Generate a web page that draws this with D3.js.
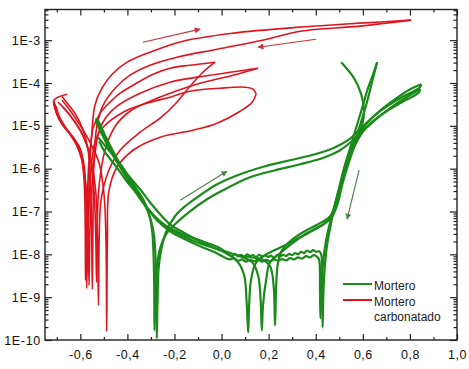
<!DOCTYPE html>
<html>
<head>
<meta charset="utf-8">
<script src="https://cdn.jsdelivr.net/npm/d3@7/dist/d3.min.js"></script>
<style>
  body { margin: 0; background: #fff; }
  svg { display: block; font-family: 'Liberation Sans', Arial, sans-serif; }
</style>
</head>
<body>
<div id="main"></div>
<script>
// points are [E (V), log10 of current]
// mortero carbonatado, 4 cycles
const carb1Fwd = [
  [-0.656, -4.261], [-0.712, -4.402], [-0.703, -4.682], [-0.678, -4.962], [-0.635, -5.243],
  [-0.601, -5.523], [-0.584, -5.920], [-0.576, -6.738], [-0.574, -7.906], [-0.573, -8.793],
  [-0.569, -7.906], [-0.565, -6.738], [-0.559, -5.803], [-0.550, -5.102], [-0.538, -4.518],
  [-0.508, -4.121], [-0.465, -3.794], [-0.401, -3.514], [-0.304, -3.280], [-0.164, -3.023],
  [0.049, -2.836], [0.334, -2.696], [0.588, -2.603], [0.805, -2.533]
];
const carb1Rev = [
  [0.805, -2.533], [0.588, -2.673], [0.334, -2.790], [0.193, -2.977], [-0.019, -3.210],
  [-0.189, -3.397], [-0.304, -3.584], [-0.389, -3.818], [-0.452, -4.121], [-0.503, -4.518],
  [-0.529, -4.986], [-0.542, -5.803], [-0.546, -7.205], [-0.549, -8.817], [-0.552, -7.438],
  [-0.557, -6.270], [-0.567, -5.570], [-0.588, -5.102], [-0.618, -4.752], [-0.652, -4.495],
  [-0.678, -4.308]
];
const carb2Fwd = [
  [-0.707, -4.495], [-0.695, -4.775], [-0.661, -5.056], [-0.622, -5.336], [-0.597, -5.686],
  [-0.584, -6.270], [-0.579, -7.438], [-0.578, -8.606], [-0.574, -7.438], [-0.569, -6.504],
  [-0.563, -5.803], [-0.554, -5.336], [-0.546, -5.056], [-0.516, -4.705], [-0.474, -4.448],
  [-0.431, -4.238], [-0.376, -4.051], [-0.291, -3.794], [-0.219, -3.654], [-0.134, -3.584],
  [-0.028, -3.514]
];
const carb2Rev = [
  [-0.028, -3.514], [-0.079, -3.748], [-0.134, -4.075], [-0.198, -4.495], [-0.261, -4.822],
  [-0.346, -5.149], [-0.431, -5.570], [-0.482, -6.084], [-0.512, -6.738], [-0.520, -7.672],
  [-0.523, -9.190], [-0.527, -7.672], [-0.533, -6.621], [-0.554, -5.803], [-0.584, -5.289],
  [-0.622, -4.916], [-0.661, -4.635], [-0.695, -4.448]
];
const carb3Fwd = [
  [-0.703, -4.542], [-0.686, -4.822], [-0.652, -5.126], [-0.618, -5.429], [-0.593, -5.803],
  [-0.576, -6.387], [-0.566, -7.438], [-0.563, -8.723], [-0.559, -7.438], [-0.550, -6.387],
  [-0.538, -5.686], [-0.525, -5.219], [-0.499, -4.869], [-0.444, -4.542], [-0.346, -4.238],
  [-0.219, -3.981], [-0.049, -3.818], [0.155, -3.654]
];
const carb3Rev = [
  [0.155, -3.654], [0.049, -3.818], [-0.091, -4.005], [-0.219, -4.238], [-0.304, -4.425],
  [-0.389, -4.659], [-0.452, -5.009], [-0.495, -5.570], [-0.520, -6.387], [-0.529, -7.438],
  [-0.531, -8.653], [-0.535, -7.438], [-0.542, -6.504], [-0.559, -5.686], [-0.593, -5.172],
  [-0.635, -4.822], [-0.673, -4.565]
];
const carb4Fwd = [
  [-0.712, -4.425], [-0.699, -4.729], [-0.669, -5.009], [-0.631, -5.289], [-0.601, -5.616],
  [-0.584, -6.084], [-0.574, -7.205], [-0.569, -8.373], [-0.565, -7.205], [-0.557, -6.270],
  [-0.548, -5.686], [-0.533, -5.289], [-0.503, -5.032], [-0.418, -4.682], [-0.317, -4.472],
  [-0.219, -4.332], [-0.134, -4.191], [-0.006, -4.121], [0.100, -4.098], [0.134, -4.145],
  [0.147, -4.261]
];
const carb4Rev = [
  [0.147, -4.261], [0.130, -4.448], [0.079, -4.659], [-0.019, -4.939], [-0.121, -5.102],
  [-0.261, -5.266], [-0.376, -5.570], [-0.444, -5.967], [-0.478, -6.504], [-0.485, -7.672],
  [-0.488, -9.798], [-0.491, -7.672], [-0.499, -6.621], [-0.520, -5.873], [-0.559, -5.383],
  [-0.601, -4.986], [-0.644, -4.635], [-0.678, -4.402]
];

// mortero, 4 cycles
const mort1Fwd = [
  [-0.533, -4.822], [-0.516, -5.056], [-0.491, -5.359], [-0.461, -5.686], [-0.427, -5.990],
  [-0.389, -6.294], [-0.350, -6.621], [-0.321, -6.901], [-0.300, -7.205], [-0.287, -7.555],
  [-0.280, -8.139], [-0.277, -9.074], [-0.275, -9.961], [-0.272, -9.074], [-0.268, -8.373],
  [-0.257, -7.906], [-0.236, -7.485], [-0.198, -7.111], [-0.155, -6.878], [-0.091, -6.621],
  [-0.019, -6.364], [0.079, -6.130], [0.185, -5.943], [0.291, -5.803], [0.397, -5.663],
  [0.474, -5.523], [0.537, -5.336], [0.597, -5.032], [0.665, -4.682], [0.737, -4.378],
  [0.801, -4.145], [0.848, -4.028]
];
const mort1Rev = [
  [0.848, -4.028], [0.843, -4.098], [0.758, -4.355], [0.673, -4.659], [0.614, -4.962],
  [0.571, -5.289], [0.542, -5.686], [0.516, -6.154], [0.495, -6.621], [0.474, -7.018],
  [0.444, -7.252], [0.397, -7.415], [0.334, -7.602], [0.270, -7.789], [0.198, -7.976],
  [0.147, -8.186], [0.125, -8.606], [0.117, -9.190], [0.113, -9.821], [0.106, -9.074],
  [0.096, -8.490], [0.070, -8.186], [0.028, -7.999], [-0.028, -7.859], [-0.091, -7.696],
  [-0.164, -7.485], [-0.219, -7.298], [-0.261, -7.065], [-0.304, -6.784], [-0.346, -6.481],
  [-0.397, -6.154], [-0.444, -5.803], [-0.486, -5.523], [-0.525, -5.266]
];
const mort2Fwd = [
  [-0.525, -4.869], [-0.503, -5.126], [-0.474, -5.453], [-0.440, -5.803], [-0.401, -6.130],
  [-0.363, -6.457], [-0.329, -6.761], [-0.308, -7.065], [-0.295, -7.438], [-0.289, -8.022],
  [-0.286, -8.840], [-0.285, -9.774], [-0.280, -8.840], [-0.274, -8.256], [-0.261, -7.859],
  [-0.236, -7.532], [-0.198, -7.298], [-0.134, -6.995], [-0.062, -6.714], [0.006, -6.504],
  [0.121, -6.200], [0.227, -6.037], [0.334, -5.897], [0.427, -5.757], [0.503, -5.570],
  [0.563, -5.313], [0.618, -5.032], [0.682, -4.729], [0.758, -4.425], [0.843, -4.145]
];
const mort2Rev = [
  [0.843, -4.145], [0.839, -4.215], [0.750, -4.495], [0.665, -4.799], [0.605, -5.102],
  [0.567, -5.453], [0.537, -5.920], [0.512, -6.387], [0.491, -6.854], [0.465, -7.158],
  [0.418, -7.345], [0.355, -7.532], [0.300, -7.742], [0.253, -7.952], [0.206, -8.186],
  [0.189, -8.606], [0.176, -9.190], [0.171, -9.774], [0.166, -9.074], [0.155, -8.490],
  [0.130, -8.186], [0.079, -8.046], [0.015, -7.929], [-0.070, -7.789], [-0.155, -7.602],
  [-0.219, -7.415], [-0.270, -7.205], [-0.312, -6.948], [-0.355, -6.621], [-0.406, -6.270],
  [-0.452, -5.920], [-0.495, -5.616], [-0.520, -5.359]
];
const mort3Fwd = [
  [-0.529, -4.916], [-0.508, -5.172], [-0.478, -5.499], [-0.444, -5.827], [-0.406, -6.177],
  [-0.368, -6.504], [-0.334, -6.784], [-0.304, -6.995], [-0.261, -7.228], [-0.210, -7.415],
  [-0.142, -7.579], [-0.070, -7.719], [-0.006, -7.859],
  [0.028, -8.00], [0.045, -8.04], [0.057, -7.99], [0.070, -8.05], [0.083, -8.01],
  [0.096, -8.06], [0.108, -8.00], [0.121, -8.04], [0.134, -8.02], [0.147, -8.07],
  [0.159, -8.01], [0.172, -8.05], [0.185, -8.02], [0.198, -8.06], [0.210, -8.03],
  [0.223, -8.08], [0.236, -8.02], [0.249, -8.05], [0.261, -8.01], [0.274, -8.04],
  [0.287, -7.99], [0.300, -8.02], [0.312, -7.97], [0.325, -8.00], [0.338, -7.94],
  [0.351, -7.97], [0.363, -7.91], [0.376, -7.95], [0.389, -7.90], [0.401, -7.94],
  [0.414, -7.93], [0.423, -8.00], [0.427, -8.490], [0.428, -9.074], [0.429, -9.704],
  [0.433, -8.840], [0.440, -8.186], [0.448, -7.789], [0.461, -7.392], [0.478, -6.924],
  [0.499, -6.457], [0.520, -5.990], [0.546, -5.523], [0.571, -5.056], [0.597, -4.588],
  [0.622, -4.121], [0.644, -3.794], [0.661, -3.514]
];
const mort3Rev = [
  [0.661, -3.514], [0.639, -3.981], [0.614, -4.518], [0.588, -4.986], [0.559, -5.453],
  [0.533, -5.920], [0.508, -6.387], [0.486, -6.808], [0.461, -7.111], [0.410, -7.298],
  [0.346, -7.485], [0.291, -7.696], [0.257, -7.906], [0.240, -8.186], [0.232, -8.723],
  [0.227, -9.658], [0.221, -8.723], [0.206, -8.279], [0.172, -8.116], [0.121, -8.069],
  [0.070, -8.022]
];
const mort4Fwd = [
  [-0.533, -4.892], [-0.512, -5.149], [-0.482, -5.476], [-0.448, -5.803], [-0.410, -6.154],
  [-0.372, -6.481], [-0.338, -6.761], [-0.308, -6.971], [-0.270, -7.228], [-0.219, -7.462],
  [-0.155, -7.649], [-0.091, -7.812], [-0.028, -7.952],
  [0.015, -8.08], [0.036, -8.12], [0.053, -8.09], [0.070, -8.15], [0.087, -8.12],
  [0.104, -8.17], [0.121, -8.13], [0.138, -8.16], [0.155, -8.12], [0.172, -8.17],
  [0.189, -8.13], [0.206, -8.16], [0.223, -8.12], [0.240, -8.15], [0.257, -8.11],
  [0.274, -8.14], [0.291, -8.09], [0.308, -8.12], [0.325, -8.07], [0.342, -8.10],
  [0.359, -8.04], [0.376, -8.07], [0.393, -8.02], [0.406, -8.06], [0.414, -8.12],
  [0.418, -8.840], [0.420, -9.494], [0.425, -8.723], [0.431, -8.186], [0.444, -7.672],
  [0.461, -7.252], [0.486, -6.738], [0.512, -6.224], [0.546, -5.570], [0.576, -5.289],
  [0.597, -4.986], [0.605, -4.635], [0.593, -4.261], [0.563, -3.888], [0.508, -3.514]
];

// scan direction arrows [from, to]
const carbArrows = [
  [[-0.334, -3.047], [-0.091, -2.743]],
  [[0.401, -2.977], [0.155, -3.164]]
];
const mortArrows = [
  [[-0.176, -6.738], [0.023, -6.060]],
  [[0.584, -6.037], [0.533, -7.181]]
];

// axes
const xMajorTicks = [-0.6, -0.4, -0.2, 0.0, 0.2, 0.4, 0.6, 0.8, 1.0];
const xMinorTicks = [-0.7, -0.5, -0.3, -0.1, 0.1, 0.3, 0.5, 0.7, 0.9];
const yDecades = [-10, -9, -8, -7, -6, -5, -4, -3];
const legendLabels = [['Mortero'], ['Mortero', 'carbonatado']];

const GREEN = '#1a8a1a';
const RED = '#e0141e';

const PLOT = { left: 45, right: 457, top: 9.5, bottom: 340 };

const svg = d3
  .select('div#main')
  .append('svg')
  .attr('width', 469)
  .attr('height', 369);

const xScale = d3.scaleLinear().domain([-0.75, 1.0]).range([PLOT.left, PLOT.right]);
const yScale = d3.scaleLog().domain([1e-10, 5.2e-3]).range([PLOT.bottom, PLOT.top]);

const yMinorTicks = [];
for (const d of yDecades) {
  for (let m = 2; m <= 9; m++) {
    const v = m * Math.pow(10, d);
    if (v <= 5.2e-3) yMinorTicks.push(v);
  }
}
const yMajorTicks = yDecades.map((d) => Math.pow(10, d));

const fmtX = (v) => d3.format('.1f')(v).replace('.', ',').replace('−', '-');

// helper to draw one axis with inward ticks
const drawAxis = (props) => {
  const { axisFn, scale, ticks, size, transform, format, padding, cls } = props;
  const g = svg
    .append('g')
    .attr('class', cls)
    .attr('transform', transform)
    .call(
      axisFn(scale)
        .tickValues(ticks)
        .tickSizeInner(-size)
        .tickSizeOuter(0)
        .tickPadding(padding || 3)
        .tickFormat(format || (() => ''))
    );
  g.select('.domain').remove();
  g.selectAll('.tick line').attr('stroke', '#222').attr('stroke-width', 1.2);
  return g;
};

// x axes
const xb = drawAxis({ axisFn: d3.axisBottom, scale: xScale, ticks: xMajorTicks, size: 6,
  transform: `translate(0,${PLOT.bottom})`, format: fmtX, padding: 10, cls: 'x axis' });
xb.selectAll('text').attr('font-size', '12.5px').attr('letter-spacing', '0.5px').attr('fill', '#111');
drawAxis({ axisFn: d3.axisBottom, scale: xScale, ticks: xMinorTicks, size: 3,
  transform: `translate(0,${PLOT.bottom})`, cls: 'x minor' });
drawAxis({ axisFn: d3.axisTop, scale: xScale, ticks: xMajorTicks, size: 6,
  transform: `translate(0,${PLOT.top})`, cls: 'x top' });
drawAxis({ axisFn: d3.axisTop, scale: xScale, ticks: xMinorTicks, size: 3,
  transform: `translate(0,${PLOT.top})`, cls: 'x top minor' });

// y axes
const yl = drawAxis({ axisFn: d3.axisLeft, scale: yScale, ticks: yMajorTicks, size: 7,
  transform: `translate(${PLOT.left},0)`, format: (v) => '1E' + Math.round(Math.log10(v)),
  padding: 4, cls: 'y axis' });
yl.selectAll('text').attr('font-size', '12.5px').attr('letter-spacing', '0.7px').attr('fill', '#111');
drawAxis({ axisFn: d3.axisLeft, scale: yScale, ticks: yMinorTicks, size: 3.5,
  transform: `translate(${PLOT.left},0)`, cls: 'y minor' });
drawAxis({ axisFn: d3.axisRight, scale: yScale, ticks: yMajorTicks, size: 7,
  transform: `translate(${PLOT.right},0)`, cls: 'y right' });
drawAxis({ axisFn: d3.axisRight, scale: yScale, ticks: yMinorTicks, size: 3.5,
  transform: `translate(${PLOT.right},0)`, cls: 'y right minor' });

// frame
svg
  .append('rect')
  .attr('x', PLOT.left)
  .attr('y', PLOT.top)
  .attr('width', PLOT.right - PLOT.left)
  .attr('height', PLOT.bottom - PLOT.top)
  .attr('fill', 'none')
  .attr('stroke', '#222')
  .attr('stroke-width', 1.4);

svg
  .append('clipPath')
  .attr('id', 'clip')
  .append('rect')
  .attr('x', PLOT.left)
  .attr('y', PLOT.top)
  .attr('width', PLOT.right - PLOT.left)
  .attr('height', PLOT.bottom - PLOT.top);

const line = d3
  .line()
  .x((d) => xScale(d[0]))
  .y((d) => yScale(Math.pow(10, d[1])))
  .curve(d3.curveCatmullRom.alpha(0.5));

const plot = svg.append('g').attr('clip-path', 'url(#clip)');

const carbCurves = [carb1Fwd, carb1Rev, carb2Fwd, carb2Rev, carb3Fwd, carb3Rev, carb4Fwd, carb4Rev];
const mortCurves = [mort1Fwd, mort1Rev, mort2Fwd, mort2Rev, mort3Fwd, mort3Rev, mort4Fwd];

plot
  .selectAll('.carb')
  .data(carbCurves)
  .enter()
  .append('path')
  .attr('class', 'carb')
  .attr('d', line)
  .attr('fill', 'none')
  .attr('stroke', RED)
  .attr('stroke-width', 1.6)
  .attr('stroke-linejoin', 'round');

plot
  .selectAll('.mort')
  .data(mortCurves)
  .enter()
  .append('path')
  .attr('class', 'mort')
  .attr('d', line)
  .attr('fill', 'none')
  .attr('stroke', GREEN)
  .attr('stroke-width', 2.2)
  .attr('stroke-linejoin', 'round');

// arrows
const defs = svg.append('defs');
const addMarker = (id, color) => {
  defs
    .append('marker')
    .attr('id', id)
    .attr('viewBox', '0 0 10 10')
    .attr('refX', 9)
    .attr('refY', 5)
    .attr('markerWidth', 7)
    .attr('markerHeight', 6)
    .attr('markerUnits', 'userSpaceOnUse')
    .attr('orient', 'auto')
    .append('path')
    .attr('d', 'M0,0 L10,5 L0,10 z')
    .attr('fill', color);
};
addMarker('head-red', '#c8323a');
addMarker('head-green', '#4f7f4f');

const drawArrows = (arrows, color, marker) => {
  svg
    .append('g')
    .selectAll('line')
    .data(arrows)
    .enter()
    .append('line')
    .attr('x1', (d) => xScale(d[0][0]))
    .attr('y1', (d) => yScale(Math.pow(10, d[0][1])))
    .attr('x2', (d) => xScale(d[1][0]))
    .attr('y2', (d) => yScale(Math.pow(10, d[1][1])))
    .attr('stroke', color)
    .attr('stroke-width', 1.1)
    .attr('marker-end', `url(#${marker})`);
};
drawArrows(carbArrows, '#c8323a', 'head-red');
drawArrows(mortArrows, '#4f7f4f', 'head-green');

// legend
const legend = svg.append('g').attr('class', 'legend');
const legendColors = [GREEN, RED];
const legendY = [284, 300];
legendLabels.forEach((lines, i) => {
  legend
    .append('line')
    .attr('x1', 343)
    .attr('x2', 372)
    .attr('y1', legendY[i])
    .attr('y2', legendY[i])
    .attr('stroke', legendColors[i])
    .attr('stroke-width', 2);
  lines.forEach((t, j) => {
    legend
      .append('text')
      .attr('x', 374)
      .attr('y', legendY[i] + 5.5 + j * 15)
      .attr('font-size', '12px')
      .attr('fill', '#222')
      .text(t);
  });
});
</script>
</body>
</html>
